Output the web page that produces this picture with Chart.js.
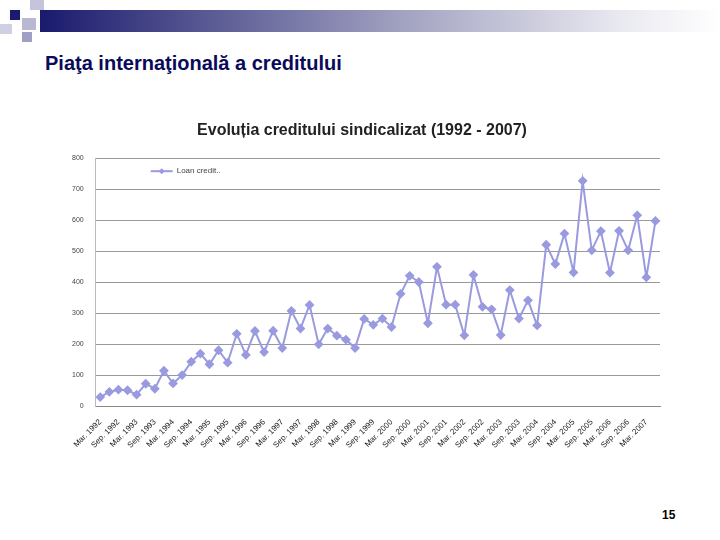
<!DOCTYPE html>
<html><head><meta charset="utf-8">
<script src="https://cdn.jsdelivr.net/npm/chart.js@4"></script>
<style>
body{margin:0;width:720px;height:540px;background:#fff;position:relative;overflow:hidden;font-family:"Liberation Sans",Arial,sans-serif}
#bar{position:absolute;left:40px;top:10px;width:680px;height:22px;background:linear-gradient(to right,#1a1a6e 0%,#5a5a94 25%,#a6a6c4 55%,#e8e8f0 85%,#fff 100%)}
.sq{position:absolute}
#t{position:absolute;left:45px;top:52px;font-size:20px;font-weight:bold;color:#0a0a5a}
#pg{position:absolute;left:662px;top:508px;font-size:12px;font-weight:bold}
#wrap{position:absolute;left:50px;top:121px;width:616px;height:332px}
</style></head><body>
<div id="bar"></div>
<div class="sq" style="left:10px;top:10px;width:10px;height:10px;background:#1a1a6e"></div>
<div class="sq" style="left:30px;top:0px;width:14px;height:10px;background:#c4c4dc"></div>
<div class="sq" style="left:22px;top:18px;width:14px;height:12px;background:#b8b8d4"></div>
<div class="sq" style="left:0px;top:24px;width:12px;height:10px;background:#d0d0e4"></div>
<div class="sq" style="left:22px;top:32px;width:10px;height:10px;background:#a0a0c4"></div>
<div id="t">Piaţa internaţională a creditului</div>
<div id="pg">15</div>
<div id="wrap"><canvas id="c"></canvas></div>
<script>
const years=[1992,1993,1994,1995,1996,1997,1998,1999,2000,2001,2002,2003,2004,2005,2006,2007];
const quarters=["Mar.","Jun.","Sep.","Dec."];
const labels=[];
for(const y of years)for(const q of quarters)labels.push(q+" "+y);
const values=[30,47,54,52,38,73,57,115,74,101,144,170,136,181,141,234,166,243,175,244,188,308,251,327,200,251,228,215,188,282,263,283,256,363,421,401,268,450,328,328,229,424,321,313,230,375,283,342,261,521,459,557,432,727,503,565,431,566,503,616,416,598];
const cats=labels.slice(0,values.length);
const seriesName="Loan credit..";
new Chart(document.getElementById('c'),{type:'line',
data:{labels:cats,datasets:[{label:seriesName,data:values,borderColor:'#9a9ae0',backgroundColor:'#9a9ae0',borderWidth:2,pointStyle:'rectRot',pointRadius:3.5,tension:0}]},
options:{responsive:true,maintainAspectRatio:false,animation:false,
layout:{padding:{right:2,left:10}},
plugins:{title:{display:true,text:'Evoluția creditului sindicalizat (1992 - 2007)',font:{family:'Liberation Sans',size:16,weight:'bold'},color:'#222',padding:{top:0,bottom:18}},
legend:{display:false}},
scales:{x:{offset:true,grid:{display:false,drawTicks:true},border:{color:'#888'},ticks:{autoSkip:false,maxRotation:45,minRotation:45,font:{size:8},color:'#222',callback:function(v,i){return i%2===0?cats[i]:'';}}},
y:{min:0,max:800,ticks:{stepSize:100,font:{size:7},color:'#444',padding:12},grid:{color:'#999',drawTicks:false},border:{display:true,color:'#bbb'}}}},
plugins:[{id:'lg',afterDraw(ch){const c=ch.ctx,a=ch.chartArea;const x=a.left+55,y=a.top+13;c.save();c.strokeStyle='#9a9ae0';c.fillStyle='#9a9ae0';c.lineWidth=2;c.beginPath();c.moveTo(x,y);c.lineTo(x+22,y);c.stroke();c.beginPath();c.moveTo(x+11,y-3);c.lineTo(x+14,y);c.lineTo(x+11,y+3);c.lineTo(x+8,y);c.fill();c.fillStyle='#444';c.font='8px Liberation Sans';c.textBaseline='middle';c.fillText(seriesName,x+26,y);c.restore();}}]
});
</script></body></html>
